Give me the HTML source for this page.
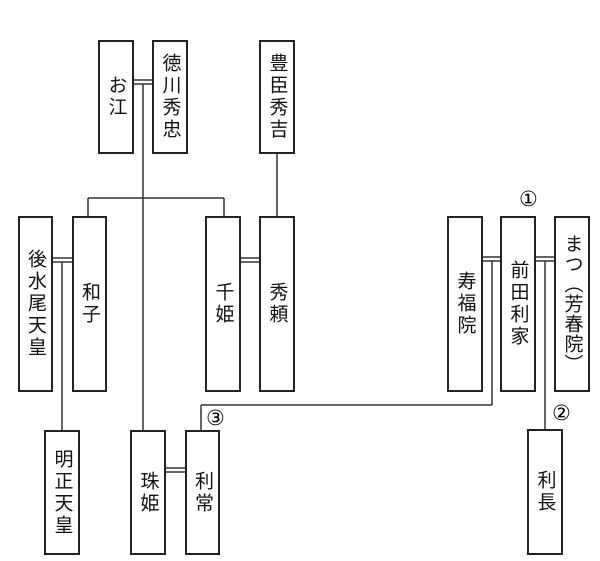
<!DOCTYPE html>
<html><head><meta charset="utf-8"><style>
body{margin:0;width:600px;height:561px;background:#fff;position:relative;overflow:hidden;font-family:"Liberation Sans","Noto Sans CJK JP",sans-serif}
.b{position:absolute;box-sizing:border-box;border:2px solid #222;background:#fff;display:flex;align-items:center;justify-content:center}
.b span{writing-mode:vertical-rl;font-size:19px;line-height:1;color:#111;letter-spacing:3px}
svg{position:absolute;left:0;top:0}
.n{position:absolute;font-size:21px;line-height:1;font-family:"DejaVu Sans","Noto Sans CJK JP",sans-serif}
</style></head><body>
<svg width="600" height="561" stroke="#333" stroke-width="1.5" fill="none">
<line x1="134" y1="80" x2="152" y2="80"/><line x1="134" y1="84" x2="152" y2="84"/>
<line x1="143" y1="84" x2="143" y2="430"/>
<line x1="88" y1="198" x2="224" y2="198"/>
<line x1="88" y1="198" x2="88" y2="216"/><line x1="224" y1="198" x2="224" y2="216"/>
<line x1="277" y1="154" x2="277" y2="216"/>
<line x1="53" y1="258" x2="72" y2="258"/><line x1="53" y1="262" x2="72" y2="262"/>
<line x1="62" y1="262" x2="62" y2="430"/>
<line x1="241" y1="258" x2="259" y2="258"/><line x1="241" y1="262" x2="259" y2="262"/>
<line x1="166" y1="468" x2="185" y2="468"/><line x1="166" y1="472" x2="185" y2="472"/>
<line x1="483" y1="257" x2="500" y2="257"/><line x1="483" y1="261" x2="500" y2="261"/>
<line x1="492" y1="261" x2="492" y2="405"/><line x1="492" y1="405" x2="201" y2="405"/><line x1="201" y1="405" x2="201" y2="430"/>
<line x1="536" y1="257" x2="554" y2="257"/><line x1="536" y1="261" x2="554" y2="261"/>
<line x1="545" y1="261" x2="545" y2="429"/>
</svg>
<div class="b" style="left:98px;top:40px;width:36px;height:114px"><span>お江</span></div>
<div class="b" style="left:152px;top:40px;width:36px;height:114px"><span>徳川秀忠</span></div>
<div class="b" style="left:259px;top:40px;width:36px;height:114px"><span>豊臣秀吉</span></div>
<div class="b" style="left:18px;top:216px;width:35px;height:176px"><span>後水尾天皇</span></div>
<div class="b" style="left:72px;top:216px;width:35px;height:176px"><span>和子</span></div>
<div class="b" style="left:205px;top:216px;width:36px;height:176px"><span>千姫</span></div>
<div class="b" style="left:259px;top:216px;width:36px;height:176px"><span>秀頼</span></div>
<div class="b" style="left:447px;top:216px;width:36px;height:176px"><span>寿福院</span></div>
<div class="b" style="left:500px;top:216px;width:36px;height:176px"><span>前田利家</span></div>
<div class="b" style="left:554px;top:216px;width:36px;height:176px"><span style="letter-spacing:1px">まつ（芳春院）</span></div>
<div class="b" style="left:44px;top:430px;width:36px;height:125px"><span>明正天皇</span></div>
<div class="b" style="left:130px;top:430px;width:36px;height:125px"><span>珠姫</span></div>
<div class="b" style="left:185px;top:430px;width:35px;height:125px"><span>利常</span></div>
<div class="b" style="left:527px;top:429px;width:36px;height:126px"><span>利長</span></div>
<div class="n" style="left:519px;top:189px">①</div>
<div class="n" style="left:552px;top:403px">②</div>
<div class="n" style="left:206px;top:408px">③</div>
</body></html>
